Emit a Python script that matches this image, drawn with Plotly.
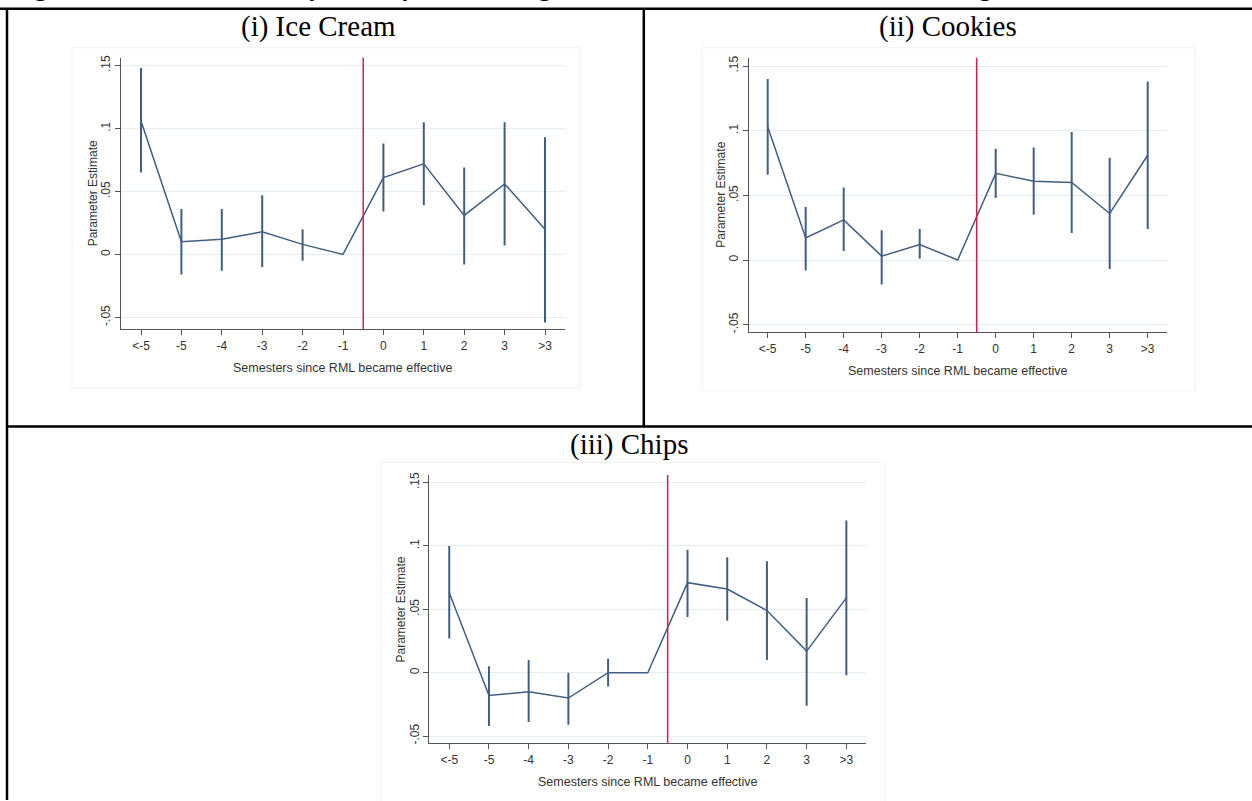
import plotly.graph_objects as go

W, H = 1252, 801

categories = ["<-5", "-5", "-4", "-3", "-2", "-1", "0", "1", "2", "3", ">3"]
y_tickvals = [-0.05, 0, 0.05, 0.1, 0.15]
y_ticktext = ["-.05", "0", ".05", ".1", ".15"]

ice_est = [0.106, 0.010, 0.012, 0.018, 0.008, 0.0, 0.061, 0.072, 0.031, 0.056, 0.020]
ice_lo = [0.065, -0.016, -0.013, -0.010, -0.005, None, 0.034, 0.039, -0.008, 0.007, -0.054]
ice_hi = [0.148, 0.036, 0.036, 0.047, 0.020, None, 0.088, 0.105, 0.069, 0.105, 0.093]

cookies_est = [0.103, 0.017, 0.031, 0.003, 0.012, 0.0, 0.067, 0.061, 0.060, 0.036, 0.081]
cookies_lo = [0.066, -0.008, 0.007, -0.019, 0.001, None, 0.048, 0.035, 0.021, -0.007, 0.024]
cookies_hi = [0.140, 0.041, 0.056, 0.023, 0.024, None, 0.086, 0.087, 0.099, 0.079, 0.138]

chips_est = [0.063, -0.018, -0.015, -0.020, 0.0, 0.0, 0.071, 0.066, 0.049, 0.017, 0.059]
chips_lo = [0.027, -0.042, -0.039, -0.041, -0.011, None, 0.044, 0.041, 0.010, -0.026, -0.002]
chips_hi = [0.100, 0.005, 0.010, 0.0, 0.011, None, 0.097, 0.091, 0.088, 0.059, 0.120]

panel_titles = ["(i) Ice Cream", "(ii) Cookies", "(iii) Chips"]
x_title = "Semesters since RML became effective"
y_title = "Parameter Estimate"
main_title = "Figure 4: Estimated Monthly Sales by Product Segment Relative to the Semester Before Legalization"

LINE = "#3f5f80"
RED = "#d3204a"
GRID = "#e4eef0"
AXIS = "#555555"
TXT = "#333333"


def X(px):
    return px / W


def Y(py):
    return 1 - py / H


panels = [
    dict(est=ice_est, lo=ice_lo, hi=ice_hi, px=(120.8, 565.2), py=(55, 328),
         yr=(-0.0595, 0.1562), title=(318, 24), box=(72, 45, 580, 387)),
    dict(est=cookies_est, lo=cookies_lo, hi=cookies_hi, px=(748.7, 1166.7), py=(55, 331),
         yr=(-0.0559, 0.1564), title=(948, 24), box=(702, 45, 1195, 390)),
    dict(est=chips_est, lo=chips_lo, hi=chips_hi, px=(429.4, 866.2), py=(474.3, 744),
         yr=(-0.0557, 0.156), title=(629, 444), box=(381, 462, 885, 806)),
]

fig = go.Figure()
shapes = []
annotations = []

for i, p in enumerate(panels):
    k = "" if i == 0 else str(i + 1)
    up = [None if (h is None) else h - e for h, e in zip(p["hi"], p["est"])]
    dn = [None if (l is None) else e - l for l, e in zip(p["lo"], p["est"])]
    fig.add_trace(go.Scatter(
        x=categories, y=p["est"], mode="lines",
        line=dict(color=LINE, width=1.5),
        error_y=dict(type="data", symmetric=False, array=up, arrayminus=dn,
                     color=LINE, thickness=2, width=0),
        xaxis="x" + k, yaxis="y" + k, showlegend=False, hoverinfo="skip"))

    fig.layout["xaxis" + k] = dict(
        domain=[X(p["px"][0]), X(p["px"][1])], anchor="y" + k,
        type="category", range=[-0.5, 10.5], fixedrange=True,
        showline=True, linecolor=AXIS, linewidth=1, showgrid=False, zeroline=False,
        ticks="outside", ticklen=5, tickcolor=AXIS, tickwidth=1,
        tickfont=dict(family="Liberation Sans", size=12, color=TXT))
    fig.layout["yaxis" + k] = dict(
        domain=[Y(p["py"][1]), Y(p["py"][0])], anchor="x" + k,
        range=list(p["yr"]), fixedrange=True,
        tickvals=y_tickvals, ticktext=y_ticktext, tickangle=-90,
        showline=True, linecolor=AXIS, linewidth=1,
        showgrid=True, gridcolor=GRID, gridwidth=1, zeroline=False,
        ticks="outside", ticklen=5, tickcolor=AXIS, tickwidth=1,
        tickfont=dict(family="Liberation Sans", size=12, color=TXT))

    shapes.append(dict(type="line", xref="x" + k, yref="y" + k + " domain",
                       x0=5.5, x1=5.5, y0=0, y1=1, line=dict(color=RED, width=1.5)))
    bx0, by0, bx1, by1 = p["box"]
    shapes.append(dict(type="rect", xref="paper", yref="paper",
                       x0=X(bx0), x1=X(bx1), y0=Y(by1), y1=Y(by0),
                       line=dict(color="#f0f0f0", width=1), layer="below"))

    cx = (p["px"][0] + p["px"][1]) / 2
    cy = (p["py"][0] + p["py"][1]) / 2
    annotations.append(dict(text=x_title, xref="paper", yref="paper",
                            x=X(cx), y=Y(p["py"][1] + 39), xanchor="center", yanchor="middle",
                            showarrow=False, font=dict(family="Liberation Sans", size=12.5, color=TXT)))
    annotations.append(dict(text=y_title, xref="paper", yref="paper", textangle=-90,
                            x=X(p["px"][0] - 28), y=Y(cy), xanchor="center", yanchor="middle",
                            showarrow=False, font=dict(family="Liberation Sans", size=12, color=TXT)))
    tx, ty = p["title"]
    annotations.append(dict(text=panel_titles[i], xref="paper", yref="paper",
                            x=X(tx), y=Y(ty), xanchor="center", yanchor="middle",
                            showarrow=False, font=dict(family="Liberation Serif", size=29, color="black")))

annotations.append(dict(text="<b>" + main_title + "</b>", xref="paper", yref="paper",
                        x=X(10), y=Y(-16), xanchor="left", yanchor="middle",
                        showarrow=False, font=dict(family="Liberation Serif", size=25, color="black")))

# table rules
for (x0, y0, x1, y1) in [(0, 5.7, W, 5.7), (7, 5.7, 7, H), (643.8, 5.7, 643.8, 425.5), (7, 425.5, W, 425.5)]:
    shapes.append(dict(type="line", xref="paper", yref="paper",
                       x0=X(x0), x1=X(x1), y0=Y(y0), y1=Y(y1),
                       line=dict(color="black", width=2.5)))

fig.update_layout(width=W, height=H, autosize=False,
                  margin=dict(l=0, r=0, t=0, b=0),
                  paper_bgcolor="white", plot_bgcolor="white",
                  shapes=shapes, annotations=annotations)

fig.write_html("out.html", config={"displayModeBar": False},
               post_script="document.body.style.margin='0';document.body.style.overflow='hidden';")
